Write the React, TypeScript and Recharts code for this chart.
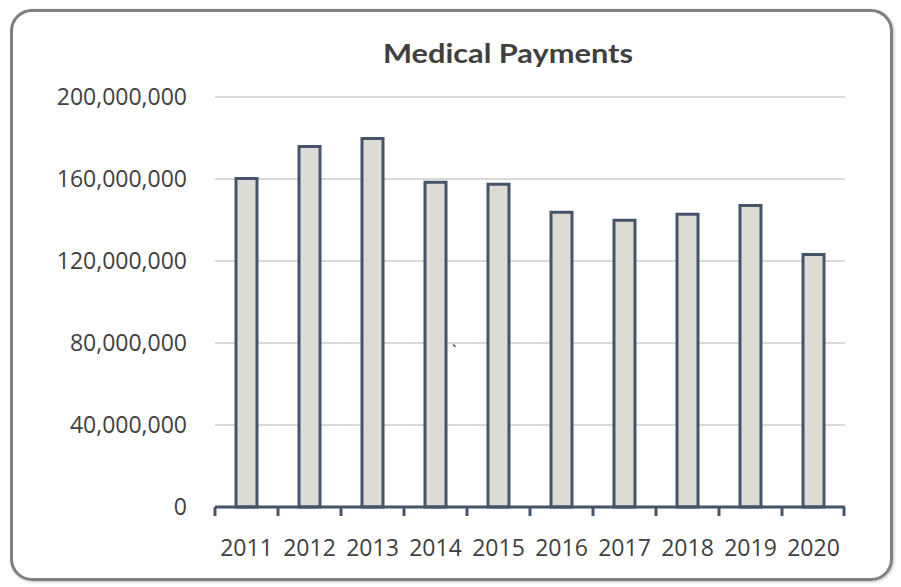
import React from "react";
import { BarChart, Bar, XAxis, YAxis, CartesianGrid } from "recharts";

const years = ["2011", "2012", "2013", "2014", "2015", "2016", "2017", "2018", "2019", "2020"];
const payments = [160200000, 175900000, 179800000, 158400000, 157500000, 143800000, 139900000, 142800000, 147100000, 123200000];
const yTicks = [0, 40000000, 80000000, 120000000, 160000000, 200000000];
const title = "Medical Payments";

const data = years.map((y, i) => ({ year: y, value: payments[i] }));

const fmt = (v: number) => v.toLocaleString("en-US");

const AXIS_COLOR = "#44546a";

const YearTick = (props: any) => {
  const { x, y, payload, index } = props;
  const half = payload && typeof payload.offset === "number" && payload.offset > 0 ? payload.offset : 31.5;
  const isLast = index === years.length - 1;
  return (
    <g>
      <line x1={x - half} x2={x - half} y1={y} y2={y + 9} stroke={AXIS_COLOR} strokeWidth={3} />
      {isLast && <line x1={x + half - 1} x2={x + half - 1} y1={y} y2={y + 9} stroke={AXIS_COLOR} strokeWidth={3} />}
      <text
        x={x}
        y={y + 33}
        dy="0.71em"
        textAnchor="middle"
        fill="#404040"
        fontSize={23}
        fontFamily="'Open Sans', sans-serif"
      >
        {payload.value}
      </text>
    </g>
  );
};

export default function App() {
  return (
    <div style={{ position: "absolute", left: 0, top: 0, width: 901, height: 587, background: "#fff", overflow: "hidden" }}>
      <div
        style={{
          position: "absolute",
          left: 10,
          top: 9,
          width: 877,
          height: 566,
          border: "3px solid #7f7f7f",
          borderRadius: 22,
          boxShadow: "1px 1px 3px rgba(0,0,0,0.25)",
        }}
      />
      <svg style={{ position: "absolute", left: 0, top: 0 }} width={901} height={100}>
        <text
          x={383}
          y={63}
          textLength={250}
          lengthAdjust="spacingAndGlyphs"
          fill="#404040"
          fontFamily="Lato, 'DejaVu Sans', sans-serif"
          fontWeight={700}
          fontSize={26}
        >
          {title}
        </text>
      </svg>
      <div style={{ position: "absolute", left: 0, top: 0 }}>
        <BarChart
          width={901}
          height={587}
          data={data}
          margin={{ top: 97, right: 56, bottom: 0, left: 0 }}
          barCategoryGap={0}
        >
          <CartesianGrid vertical={false} stroke="#d9d9d9" strokeWidth={2} />
          <XAxis
            dataKey="year"
            height={80}
            axisLine={{ stroke: AXIS_COLOR, strokeWidth: 3 }}
            tickLine={false}
            tickSize={0}
            tickMargin={0}
            tick={<YearTick />}
            interval={0}
          />
          <YAxis
            domain={[0, 200000000]}
            ticks={yTicks}
            width={215}
            axisLine={false}
            tickLine={false}
            tickSize={0}
            tickMargin={28}
            tickFormatter={fmt}
            tick={{ fill: "#404040", fontSize: 23, fontFamily: "'Open Sans', sans-serif" }}
          />
          <Bar
            dataKey="value"
            fill="#dcdbd4"
            stroke={AXIS_COLOR}
            strokeWidth={3}
            barSize={21}
            isAnimationActive={false}
          />
        </BarChart>
      </div>
      <span
        style={{
          position: "absolute",
          left: 452,
          top: 340,
          fontFamily: "'Open Sans', sans-serif",
          fontSize: 16,
          color: "#000",
        }}
      >
        `
      </span>
    </div>
  );
}
